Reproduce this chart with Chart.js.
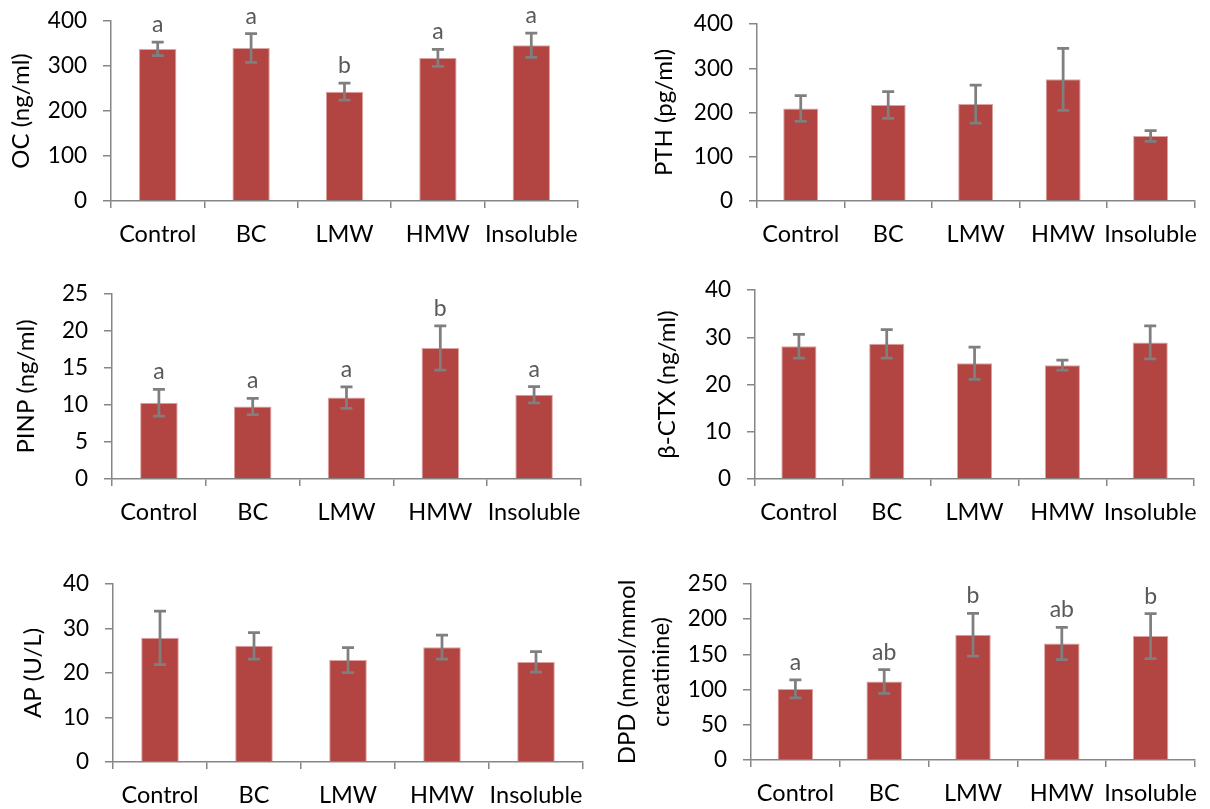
<!DOCTYPE html>
<html>
<head>
<meta charset="utf-8">
<script src="https://cdn.jsdelivr.net/npm/chart.js@4/dist/chart.umd.min.js"></script>
<style>
  body { margin: 0; background: #fff; width: 1210px; height: 809px; position: relative; overflow: hidden; }
  canvas { position: absolute; }
</style>
</head>
<body>
<canvas id="ocChart" width="600" height="260" style="left:0px;top:0px"></canvas>
<canvas id="pthChart" width="605" height="260" style="left:605px;top:0px"></canvas>
<canvas id="pinpChart" width="600" height="270" style="left:0px;top:270px"></canvas>
<canvas id="ctxChart" width="605" height="270" style="left:605px;top:270px"></canvas>
<canvas id="apChart" width="600" height="249" style="left:0px;top:560px"></canvas>
<canvas id="dpdChart" width="605" height="249" style="left:605px;top:560px"></canvas>
<script>
const CATEGORIES = [`Control`, `BC`, `LMW`, `HMW`, `Insoluble`]

const OC_MEANS = [338, 340, 243, 318, 346]
const OC_ERRORS = [15, 32, 19, 19, 27]
const OC_LETTERS = [`a`, `a`, `b`, `a`, `a`]

const PTH_MEANS = [209, 217, 219, 275, 147]
const PTH_ERRORS = [29, 30, 43, 70, 12]

const PINP_MEANS = [10.3, 9.8, 11.0, 17.7, 11.4]
const PINP_ERRORS = [1.8, 1.1, 1.45, 3.0, 1.1]
const PINP_LETTERS = [`a`, `a`, `a`, `b`, `a`]

const CTX_MEANS = [28.1, 28.6, 24.5, 24.1, 28.9]
const CTX_ERRORS = [2.5, 3.0, 3.4, 1.05, 3.5]

const AP_MEANS = [27.9, 26.1, 22.9, 25.8, 22.5]
const AP_ERRORS = [6.0, 3.0, 2.8, 2.7, 2.3]

const DPD_MEANS = [101, 111.5, 178, 165.5, 176]
const DPD_ERRORS = [12.8, 16.8, 30.4, 23, 32]
const DPD_LETTERS = [`a`, `ab`, `b`, `ab`, `b`]

const COLORS = {
  bar: `#B24441`,
  barEdge: `#DDA3A1`,
  axis: `#868686`,
  error: `#7F7F7F`,
  letter: `#595959`,
  text: `#000000`
}
const FONT = `Lato, Carlito, Calibri, sans-serif`

// draws the +/- error bars and the significance letters from the dataset
const errorBarPlugin = {
  id: `errorBars`,
  afterDatasetsDraw: chart => {
    const { ctx, scales: { y } } = chart
    const ds = chart.data.datasets[0]
    const meta = chart.getDatasetMeta(0)
    ctx.save()
    meta.data.forEach((bar, i) => {
      const mean = ds.data[i]
      const err = ds.errors[i]
      const top = y.getPixelForValue(mean + err)
      const bottom = y.getPixelForValue(mean - err)
      ctx.strokeStyle = COLORS.error
      ctx.lineWidth = 2.75
      ctx.beginPath()
      ctx.moveTo(bar.x, top)
      ctx.lineTo(bar.x, bottom)
      ctx.moveTo(bar.x - 6, top)
      ctx.lineTo(bar.x + 6, top)
      ctx.moveTo(bar.x - 6, bottom)
      ctx.lineTo(bar.x + 6, bottom)
      ctx.stroke()
      if (ds.letters) {
        ctx.fillStyle = COLORS.letter
        ctx.font = `23px ${FONT}`
        ctx.textAlign = `center`
        ctx.textBaseline = `alphabetic`
        ctx.fillText(ds.letters[i], bar.x, top - 10)
      }
    })
    ctx.restore()
  }
}

const renderPanel = ({ id, title, titlePad, titleLine, means, errors, letters, max, step, axisW, axisH, padTop, padRight }) => {
  const el = document.getElementById(id).getContext(`2d`)
  new Chart(el, {
    type: `bar`,
    data: {
      labels: CATEGORIES,
      datasets: [{
        data: means,
        errors,
        letters,
        backgroundColor: COLORS.bar,
        borderColor: COLORS.barEdge,
        borderWidth: 1,
        barPercentage: 0.4,
        categoryPercentage: 1
      }]
    },
    options: {
      responsive: false,
      animation: false,
      layout: { padding: { top: padTop, right: padRight, bottom: 0, left: 0 } },
      plugins: { legend: { display: false }, tooltip: { enabled: false } },
      scales: {
        x: {
          grid: { offset: true, drawOnChartArea: false, tickLength: 7, color: COLORS.axis, lineWidth: 1.5 },
          border: { color: COLORS.axis, width: 1.5 },
          ticks: { color: COLORS.text, padding: 12, font: { family: FONT, size: 23.5 }, maxRotation: 0, autoSkip: false },
          afterFit: s => { s.height = axisH }
        },
        y: {
          min: 0,
          max,
          ticks: { stepSize: step, color: COLORS.text, padding: 16, font: { family: FONT, size: 22.5 } },
          grid: { drawOnChartArea: false, tickLength: 8, color: COLORS.axis, lineWidth: 1.5 },
          border: { color: COLORS.axis, width: 1.5 },
          title: {
            display: true,
            text: title,
            color: COLORS.text,
            padding: { top: titlePad, bottom: 0 },
            font: { family: FONT, size: 24, lineHeight: titleLine || 1.2 }
          },
          afterFit: s => {
            s.width = axisW
            // keep the plot top fixed by the layout padding, not by the label padding
            s.paddingTop = 0
            s.paddingBottom = 0
          }
        }
      }
    },
    plugins: [errorBarPlugin]
  })
}

const main = () => {
  renderPanel({ id: `ocChart`, title: `OC (ng/ml)`, titlePad: 7, means: OC_MEANS, errors: OC_ERRORS, letters: OC_LETTERS,
    max: 400, step: 100, axisW: 111, axisH: 59, padTop: 21, padRight: 22 })
  renderPanel({ id: `pthChart`, title: `PTH (pg/ml)`, titlePad: 45, means: PTH_MEANS, errors: PTH_ERRORS,
    max: 400, step: 100, axisW: 152, axisH: 59, padTop: 24, padRight: 10 })
  renderPanel({ id: `pinpChart`, title: `PINP (ng/ml)`, titlePad: 12, means: PINP_MEANS, errors: PINP_ERRORS, letters: PINP_LETTERS,
    max: 25, step: 5, axisW: 112, axisH: 61, padTop: 24, padRight: 19 })
  renderPanel({ id: `ctxChart`, title: `β-CTX (ng/ml)`, titlePad: 48, means: CTX_MEANS, errors: CTX_ERRORS,
    max: 40, step: 10, axisW: 150, axisH: 61, padTop: 20, padRight: 14 })
  renderPanel({ id: `apChart`, title: `AP (U/L)`, titlePad: 19, means: AP_MEANS, errors: AP_ERRORS,
    max: 40, step: 10, axisW: 113, axisH: 47, padTop: 24, padRight: 17 })
  renderPanel({ id: `dpdChart`, title: [`DPD (nmol/mmol`, `creatinine)`], titlePad: 5, titleLine: 1.42, means: DPD_MEANS, errors: DPD_ERRORS, letters: DPD_LETTERS,
    max: 250, step: 50, axisW: 146, axisH: 49, padTop: 24, padRight: 10 })
}

main()
</script>
</body>
</html>
